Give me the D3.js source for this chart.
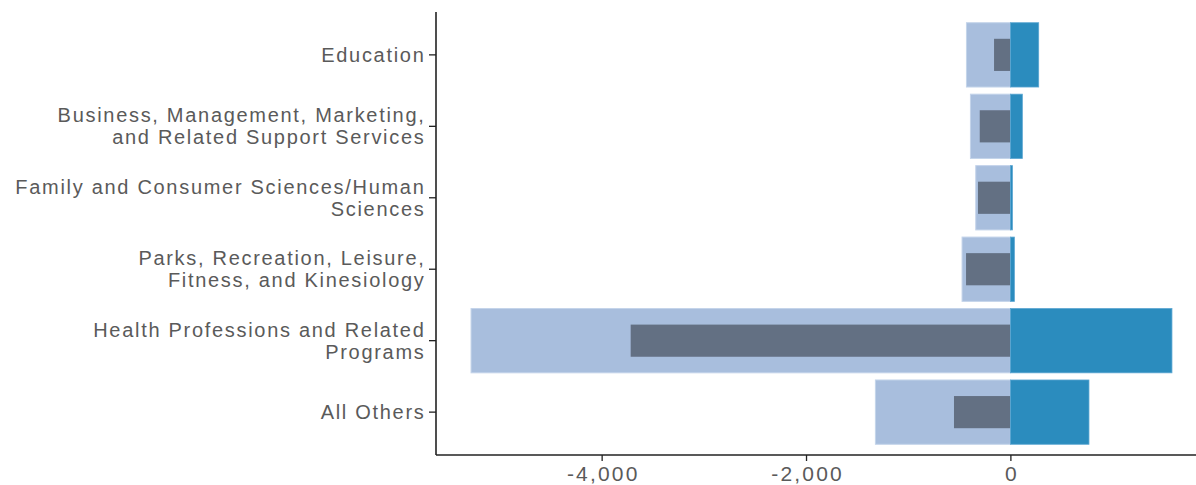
<!DOCTYPE html>
<html>

<head>
    <meta charset="utf-8">
    <style>
        body {
            margin: 0;
            background: white;
        }

        svg {
            font-family: Rubik, 'Open Sans', sans-serif;
        }

        .tick text {
            fill: #5a5a5a;
            font-size: 20px;
            letter-spacing: 1.7px;
        }

        .x-axis .tick text {
            font-size: 21px;
            letter-spacing: 2.2px;
        }
    </style>
</head>

<body>
    <svg width="1196" height="485"></svg>
</body>

<script src="https://d3js.org/d3.v7.min.js"></script>

<script>
    // categories, top to bottom
    let fields = [
        ["Education"],
        ["Business, Management, Marketing,", "and Related Support Services"],
        ["Family and Consumer Sciences/Human", "Sciences"],
        ["Parks, Recreation, Leisure,", "Fitness, and Kinesiology"],
        ["Health Professions and Related", "Programs"],
        ["All Others"]
    ]

    // wide light bar (negative side)
    let lightValues = [-430, -391, -339, -473, -5278, -1321]
    // narrow dark bar (negative side)
    let darkValues = [-160, -300, -317, -434, -3716, -552]
    // blue bar (positive side)
    let blueValues = [277, 117, 20, 39, 1581, 769]

    let xTicks = [-4000, -2000, 0]

    let svg = d3.select("svg")

    let ids = fields.map((d, i) => i)

    let x = d3.scaleLinear()
        .domain([-5621, 1924])
        .range([436, 1207])

    let y = d3.scaleBand()
        .domain(ids)
        .range([12, 455])
        .paddingInner(0.1)
        .paddingOuter(0.15)

    // light bars
    svg.selectAll(".light")
        .data(ids)
        .join("rect")
        .attr("class", "light")
        .attr("x", i => x(lightValues[i]))
        .attr("width", i => x(0) - x(lightValues[i]))
        .attr("y", i => y(i))
        .attr("height", y.bandwidth())
        .style("fill", "#a8bedd")
        .style("stroke", "#c4d4ea")
        .style("stroke-width", 1)

    // dark bars, half as thick
    svg.selectAll(".dark")
        .data(ids)
        .join("rect")
        .attr("class", "dark")
        .attr("x", i => x(darkValues[i]))
        .attr("width", i => x(0) - x(darkValues[i]))
        .attr("y", i => y(i) + y.bandwidth() / 4)
        .attr("height", y.bandwidth() / 2)
        .style("fill", "#637083")

    // blue bars
    svg.selectAll(".blue")
        .data(ids)
        .join("rect")
        .attr("class", "blue")
        .attr("x", x(0))
        .attr("width", i => x(blueValues[i]) - x(0))
        .attr("y", i => y(i))
        .attr("height", y.bandwidth())
        .style("fill", "#2b8cbe")
        .style("stroke", "#5ba6d2")
        .style("stroke-width", 0.8)

    // y axis
    let yAxis = svg.append("g")
        .attr("transform", "translate(436,0)")
        .call(d3.axisLeft(y).tickSize(7).tickPadding(4).tickFormat(() => ""))

    yAxis.select(".domain").attr("d", "M0,12V455")

    yAxis.selectAll(".tick text").each(function (i) {
        let lines = fields[i]
        let t = d3.select(this)
        t.text(null)
        lines.forEach((l, k) => {
            t.append("tspan")
                .attr("x", -10.5) // letter-spacing leaves a trailing gap
                .attr("dy", k == 0 ? ((-(lines.length - 1) * 22 / 2) + 7) + "px" : "22px")
                .text(l)
        })
        t.attr("dy", null)
    })

    // x axis, hyphen instead of unicode minus
    let fmt = d3.format(",")
    let xAxis = svg.append("g")
        .attr("class", "x-axis")
        .attr("transform", "translate(0,455)")
        .call(d3.axisBottom(x).tickValues(xTicks).tickSize(6).tickPadding(5)
            .tickFormat(d => fmt(d).replace("\u2212", "-")))

    xAxis.selectAll(".tick text").attr("dx", "1.1px")

    xAxis.select(".domain").attr("d", "M436,0H1196")

    svg.selectAll(".domain")
        .style("stroke", "#222")
        .style("stroke-width", 1.6)

    svg.selectAll(".tick line")
        .style("stroke", "#222")
        .style("stroke-width", 1.3)

</script>

</html>
